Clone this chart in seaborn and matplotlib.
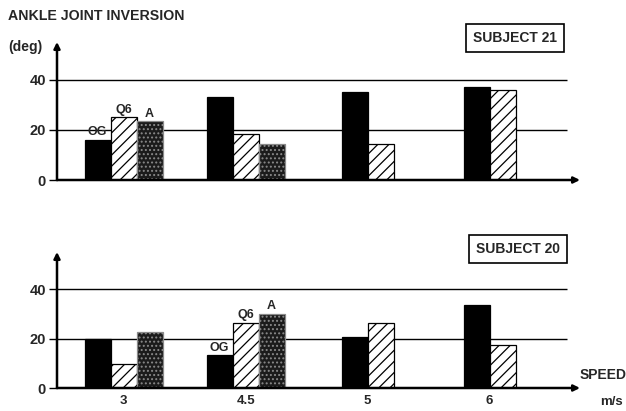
import pandas as pd
import matplotlib
matplotlib.use("Agg")
import matplotlib.pyplot as plt
import seaborn as sns

# ── data (deg); None = condition not run ─────────────────────────────────────
speeds = ["3", "4.5", "5", "6"]
conditions = ["OG", "Q6", "A"]

s21_og = [16, 33, 35, 37]
s21_q6 = [25, 18.5, 14.5, 36]
s21_a  = [23.5, 14.3, None, None]

s20_og = [20, 13.3, 20.5, 33.4]
s20_q6 = [9.8, 26.3, 26.3, 17.5]
s20_a  = [22.7, 30, None, None]

BAR_W = 0.213
X_LO, X_HI, GRID_HI = -0.545, 3.74, 3.63
Y_HI = 55

sns.set_theme(style="white")
plt.rcParams["font.family"] = ["Liberation Sans", "DejaVu Sans"]
plt.rcParams["font.weight"] = "bold"
plt.rcParams["hatch.linewidth"] = 0.9


def long_frame(og, q6, a):
    # groups centred on their speed slot, whatever the number of bars
    rows = []
    for g, sp in enumerate(speeds):
        vals = [(c, v) for c, v in zip(conditions, (og[g], q6[g], a[g])) if v is not None]
        n = len(vals)
        for i, (c, v) in enumerate(vals):
            rows.append({"speed": sp, "cond": c, "deg": v,
                         "pos": g + (i - (n - 1) / 2) * BAR_W})
    return pd.DataFrame(rows)


def draw_panel(ax, df, subject, label_speed, box_xy, show_x):
    sns.barplot(data=df, x="pos", y="deg", hue="cond", hue_order=conditions,
                native_scale=True, dodge=False, width=1, errorbar=None,
                palette={"OG": "black", "Q6": "white", "A": "#1b1b1b"},
                edgecolor="black", linewidth=0.9, legend=False, ax=ax, zorder=2)
    for bar in ax.containers[1]:
        bar.set_hatch("///")
    for bar in ax.containers[2]:
        bar.set_edgecolor("#8a8a8a")
        bar.set_hatch("....")

    ax.hlines([20, 40], X_LO, GRID_HI, color="black", lw=1.0, zorder=0.5)
    ax.set_xlim(X_LO, X_HI)
    ax.set_ylim(0, Y_HI)
    for s in ax.spines.values():
        s.set_visible(False)

    arrow = dict(arrowstyle="-|>", color="black", lw=1.8, mutation_scale=9,
                 shrinkA=0, shrinkB=0)
    ax.annotate("", xy=(X_HI, 0), xytext=(X_LO, 0), arrowprops=arrow,
                annotation_clip=False)
    ax.annotate("", xy=(X_LO, Y_HI), xytext=(X_LO, 0), arrowprops=arrow,
                annotation_clip=False)

    ax.set_yticks([0, 20, 40])
    ax.tick_params(axis="y", left=True, length=6, width=1, pad=2,
                   labelsize=10.5, color="black")
    ax.set_xticks(range(len(speeds)))
    if show_x:
        ax.set_xticklabels(speeds)
        ax.tick_params(axis="x", length=0, pad=5, labelsize=9.5)
    else:
        ax.set_xticklabels([])
        ax.tick_params(axis="x", length=0)
    ax.set_xlabel("")
    ax.set_ylabel("")

    for _, r in df[df["speed"] == label_speed].iterrows():
        ax.text(r["pos"], r["deg"] + 0.6, r["cond"], ha="center", va="bottom",
                fontsize=9, fontweight="bold")

    fig = ax.figure
    fig.text(box_xy[0] / 626, 1 - box_xy[1] / 411, subject, ha="center",
             va="center", fontsize=10, fontweight="bold",
             bbox=dict(boxstyle="square,pad=0.5", fc="white", ec="black", lw=1.2))


fig = plt.figure(figsize=(6.26, 4.11), dpi=100)
ax_top = fig.add_axes([57 / 626, (411 - 180) / 411, 523 / 626, 138 / 411])
ax_bot = fig.add_axes([57 / 626, (411 - 388) / 411, 523 / 626, 136 / 411])

draw_panel(ax_top, long_frame(s21_og, s21_q6, s21_a), "SUBJECT 21", "3",
           (515, 38), show_x=False)
draw_panel(ax_bot, long_frame(s20_og, s20_q6, s20_a), "SUBJECT 20", "4.5",
           (518, 249), show_x=True)

fig.text(8 / 626, 1 - 16 / 411, "ANKLE JOINT INVERSION", ha="left", va="center",
         fontsize=10.2, fontweight="bold")
fig.text(8 / 626, 1 - 47 / 411, "(deg)", ha="left", va="center",
         fontsize=10, fontweight="bold")
fig.text(580 / 626, 1 - 375 / 411, "SPEED", ha="left", va="center",
         fontsize=10, fontweight="bold")
fig.text(600 / 626, 1 - 402 / 411, "m/s", ha="left", va="center",
         fontsize=9.5, fontweight="bold")

fig.savefig("out.png", dpi=100)
